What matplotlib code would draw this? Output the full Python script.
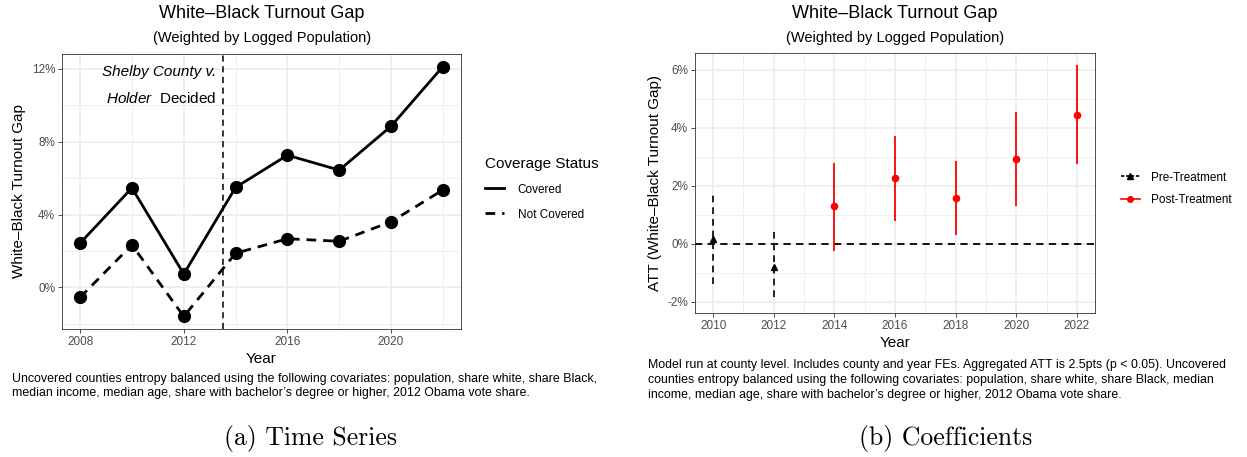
import matplotlib
matplotlib.use("Agg")
import matplotlib.pyplot as plt
from matplotlib.lines import Line2D
from matplotlib.ticker import FixedLocator, FuncFormatter

plt.rcParams["font.family"] = ["Liberation Sans", "DejaVu Sans"]
plt.rcParams["mathtext.fontset"] = "custom"
plt.rcParams["mathtext.it"] = "Liberation Sans:italic"
plt.rcParams["mathtext.rm"] = "Liberation Sans"

# Time series of the white-black turnout gap (%)
years = [2008, 2010, 2012, 2014, 2016, 2018, 2020, 2022]
gap_covered = [2.43, 5.46, 0.73, 5.49, 7.26, 6.44, 8.85, 12.13]
gap_not_covered = [-0.55, 2.33, -1.60, 1.87, 2.67, 2.53, 3.60, 5.35]
shelby_year = 2013.5

# Event-study coefficients (%)
pre_years = [2010, 2012]
pre_att = [0.16, -0.78]
pre_lo = [-1.39, -1.82]
pre_hi = [1.77, 0.48]
post_years = [2014, 2016, 2018, 2020, 2022]
post_att = [1.29, 2.25, 1.57, 2.93, 4.45]
post_lo = [-0.23, 0.79, 0.29, 1.32, 2.76]
post_hi = [2.79, 3.72, 2.86, 4.54, 6.15]

W, H = 1247, 457
fig = plt.figure(figsize=(W / 100, H / 100), dpi=100)

TICK_COL = "#4D4D4D"
GRID_COL = "#EBEBEB"
BORDER_COL = "#333333"


def px_axes(left, top, right, bottom):
    return fig.add_axes([left / W, 1 - bottom / H, (right - left) / W, (bottom - top) / H])


def style_axes(ax, xmaj, xmin, ymaj, ymin):
    ax.xaxis.set_major_locator(FixedLocator(xmaj))
    ax.xaxis.set_minor_locator(FixedLocator(xmin))
    ax.yaxis.set_major_locator(FixedLocator(ymaj))
    ax.yaxis.set_minor_locator(FixedLocator(ymin))
    ax.yaxis.set_major_formatter(FuncFormatter(lambda v, p: f"{v:.0f}%"))
    ax.grid(which="major", color=GRID_COL, linewidth=1.1)
    ax.grid(which="minor", color=GRID_COL, linewidth=0.55)
    ax.set_axisbelow(True)
    for s in ax.spines.values():
        s.set_color(BORDER_COL)
        s.set_linewidth(0.6)
    ax.tick_params(which="major", length=3, width=0.6, color=BORDER_COL,
                   labelcolor=TICK_COL, labelsize=8.5, pad=2)
    ax.tick_params(which="minor", length=0)


# ---------------- (a) Time series ----------------
ax1 = px_axes(62, 54, 461, 329)
ax1.plot(years, gap_covered, color="black", lw=2.0, ls="-", marker="o", ms=8.5,
         label="Covered", zorder=3)
ax1.plot(years, gap_not_covered, color="black", lw=2.0, ls=(0, (3.5, 2.5)), marker="o",
         ms=8.5, label="Not Covered", zorder=3)
ax1.axvline(shelby_year, color="black", lw=1.1, ls=(0, (4, 3)), zorder=2)
ax1.set_xlim(2007.3, 2022.7)
ax1.set_ylim(-2.29, 12.82)
style_axes(ax1, [2008, 2012, 2016, 2020], [2010, 2014, 2018, 2022],
           [0, 4, 8, 12], [-2, 2, 6, 10])
ax1.set_xlabel("Year", fontsize=11, labelpad=3)
ax1.set_ylabel("White\u2013Black Turnout Gap", fontsize=11, labelpad=4)
ax1.text(2013.27, 11.85, "Shelby County v.", style="italic", fontsize=11,
         ha="right", va="center")
ax1.text(2013.27, 10.4, r"$\mathit{Holder}$  Decided", fontsize=11,
         ha="right", va="center")
fig.text(262 / W, 1 - 14 / H, "White\u2013Black Turnout Gap", ha="center",
         va="center", fontsize=13)
fig.text(262 / W, 1 - 38 / H, "(Weighted by Logged Population)", ha="center",
         va="center", fontsize=10.5)

h1 = [Line2D([], [], color="black", lw=2.0, ls="-"),
      Line2D([], [], color="black", lw=2.0, ls=(0, (3.5, 2.5)))]
leg1 = fig.legend(h1, ["Covered", "Not Covered"], title="Coverage Status",
                  loc="upper left", bbox_to_anchor=(474 / W, 1 - 146 / H),
                  frameon=False, fontsize=8.5, title_fontsize=11,
                  handlelength=1.6, handletextpad=1.2, labelspacing=1.1)
leg1._legend_box.align = "left"

fig.text(12 / W, 1 - 386 / H,
         "Uncovered counties entropy balanced using the following covariates: population, share white, share Black,\n"
         "median income, median age, share with bachelor\u2019s degree or higher, 2012 Obama vote share.",
         ha="left", va="center", fontsize=8.9, linespacing=1.3)
fig.text(310 / W, 1 - 438 / H, "(a) Time Series", ha="center", va="center",
         fontsize=18.5, family="cmr10")

# ---------------- (b) Coefficients ----------------
ax2 = px_axes(695, 53, 1095, 313)
ax2.axhline(0, color="black", lw=1.3, ls=(0, (4, 3)), zorder=2)
pre_err = [[a - l for a, l in zip(pre_att, pre_lo)], [h - a for a, h in zip(pre_att, pre_hi)]]
post_err = [[a - l for a, l in zip(post_att, post_lo)], [h - a for a, h in zip(post_att, post_hi)]]
eb_pre = ax2.errorbar(pre_years, pre_att, yerr=pre_err, fmt="^", color="black",
                      ms=4.5, elinewidth=1.2, capsize=0, zorder=3)
eb_pre[2][0].set_linestyle((0, (4, 3)))
ax2.errorbar(post_years, post_att, yerr=post_err, fmt="o", color="#FF0000",
             ms=4.5, elinewidth=1.3, capsize=0, zorder=3)
ax2.set_xlim(2009.4, 2022.6)
ax2.set_ylim(-2.38, 6.57)
style_axes(ax2, [2010, 2012, 2014, 2016, 2018, 2020, 2022],
           [2011, 2013, 2015, 2017, 2019, 2021],
           [-2, 0, 2, 4, 6], [-1, 1, 3, 5])
ax2.set_xlabel("Year", fontsize=11, labelpad=3)
ax2.set_ylabel("ATT (White\u2013Black Turnout Gap)", fontsize=11, labelpad=4)
fig.text(895 / W, 1 - 14 / H, "White\u2013Black Turnout Gap", ha="center",
         va="center", fontsize=13)
fig.text(895 / W, 1 - 38 / H, "(Weighted by Logged Population)", ha="center",
         va="center", fontsize=10.5)

h2 = [Line2D([], [], color="black", lw=1.2, ls=(0, (2, 1)), marker="^", ms=4),
      Line2D([], [], color="#FF0000", lw=1.2, marker="o", ms=4)]
fig.legend(h2, ["Pre-Treatment", "Post-Treatment"], loc="upper left",
           bbox_to_anchor=(1110 / W, 1 - 161 / H), frameon=False, fontsize=8.5,
           handlelength=1.6, handletextpad=1.0, labelspacing=0.9)

fig.text(648 / W, 1 - 380 / H,
         "Model run at county level. Includes county and year FEs. Aggregated ATT is 2.5pts (p < 0.05). Uncovered\n"
         "counties entropy balanced using the following covariates: population, share white, share Black, median\n"
         "income, median age, share with bachelor\u2019s degree or higher, 2012 Obama vote share.",
         ha="left", va="center", fontsize=8.9, linespacing=1.3)
fig.text(946 / W, 1 - 438 / H, "(b) Coefficients", ha="center", va="center",
         fontsize=18.5, family="cmr10")

fig.savefig("out.png", dpi=100)
